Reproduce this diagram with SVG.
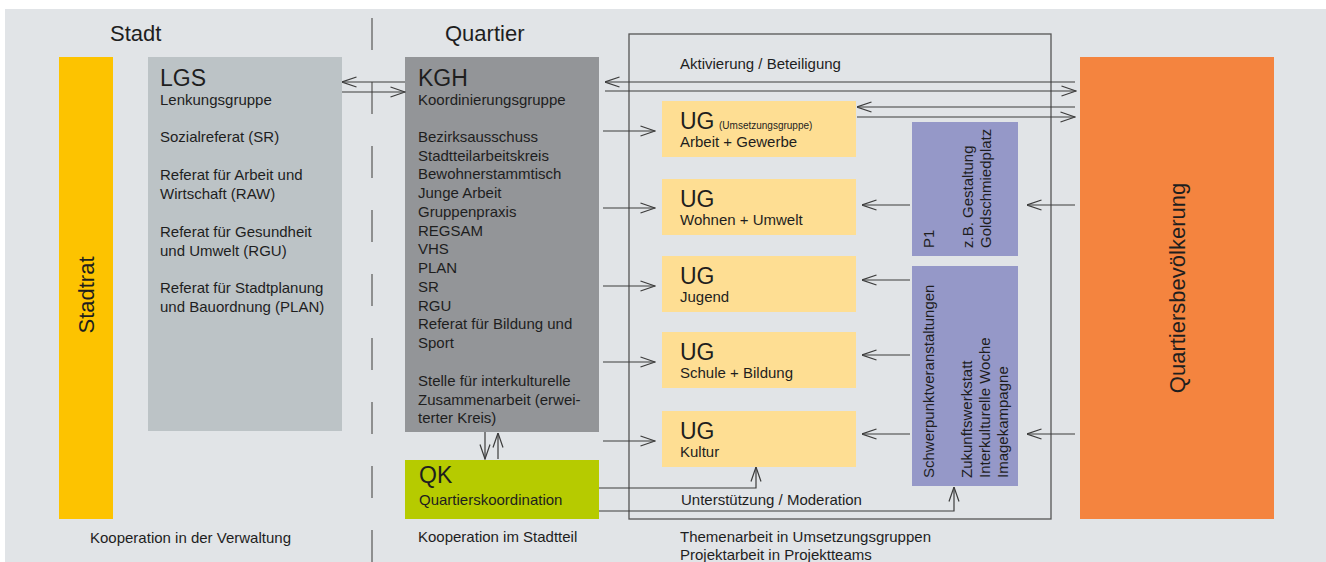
<svg xmlns="http://www.w3.org/2000/svg" width="1326" height="562" viewBox="0 0 1326 562">
<style>
text{font-family:"Liberation Sans",Arial,sans-serif;fill:#1e1e1e}
.t{font-size:15px}
.h{font-size:23px}
.big{font-size:22px}
.sm{font-size:10px}
.ln{fill:none;stroke:#3c3c3c;stroke-width:1.2}
.ar{fill:none;stroke:#3c3c3c;stroke-width:1.2;marker-end:url(#a)}
</style>
<defs>
<marker id="a" viewBox="0 0 16 12" refX="15.5" refY="6" markerWidth="16" markerHeight="12" markerUnits="userSpaceOnUse" orient="auto">
<path d="M1,1 L15.5,6 L1,11" fill="none" stroke="#3c3c3c" stroke-width="1.2"/>
</marker>
</defs>
<rect x="5" y="9" width="1321" height="553" fill="#e1e4e7"/>
<text class="big" x="110" y="41">Stadt</text>
<text class="big" x="445" y="41">Quartier</text>
<line x1="372" y1="18" x2="372" y2="562" stroke="#7a7a7a" stroke-width="1.6" stroke-dasharray="32 32"/>
<rect x="629" y="34" width="422" height="485" fill="none" stroke="#555" stroke-width="1.3"/>

<g id="stadtrat">
<rect x="59" y="57" width="54" height="462" fill="#fdc300"/>
<text class="big" text-anchor="middle" transform="translate(94,295) rotate(-90)">Stadtrat</text>
</g>
<g id="lgs">
<rect x="148" y="57" width="194" height="374" fill="#bcc3c6"/>
<text class="h" x="160" y="86">LGS</text>
<text class="t" x="160" y="105">Lenkungsgruppe</text>
<text class="t" x="160" y="142">Sozialreferat (SR)</text>
<text class="t" x="160" y="180">Referat für Arbeit und</text>
<text class="t" x="160" y="199">Wirtschaft (RAW)</text>
<text class="t" x="160" y="237">Referat für Gesundheit</text>
<text class="t" x="160" y="256">und Umwelt (RGU)</text>
<text class="t" x="160" y="293">Referat für Stadtplanung</text>
<text class="t" x="160" y="312">und Bauordnung (PLAN)</text>
</g>
<g id="kgh">
<rect x="405" y="57" width="194" height="375" fill="#939598"/>
<text class="h" x="418" y="86">KGH</text>
<text class="t" x="418" y="105">Koordinierungsgruppe</text>
<text class="t" x="418" y="142">Bezirksausschuss</text>
<text class="t" x="418" y="161">Stadtteilarbeitskreis</text>
<text class="t" x="418" y="179">Bewohnerstammtisch</text>
<text class="t" x="418" y="198">Junge Arbeit</text>
<text class="t" x="418" y="217">Gruppenpraxis</text>
<text class="t" x="418" y="236">REGSAM</text>
<text class="t" x="418" y="254">VHS</text>
<text class="t" x="418" y="273">PLAN</text>
<text class="t" x="418" y="292">SR</text>
<text class="t" x="418" y="311">RGU</text>
<text class="t" x="418" y="329">Referat für Bildung und</text>
<text class="t" x="418" y="348">Sport</text>
<text class="t" x="418" y="386">Stelle für interkulturelle</text>
<text class="t" x="418" y="405">Zusammenarbeit (erwei-</text>
<text class="t" x="418" y="423">terter Kreis)</text>
</g>
<g id="qk">
<rect x="405" y="460" width="194" height="59" fill="#b6cb00"/>
<text class="h" x="419" y="483">QK</text>
<text class="t" x="419" y="505">Quartierskoordination</text>
</g>
<g id="ug1">
<rect x="662" y="101" width="194" height="56" fill="#fede93"/>
<text class="h" x="680" y="129">UG</text>
<text class="sm" x="719" y="129">(Umsetzungsgruppe)</text>
<text class="t" x="680" y="147">Arbeit + Gewerbe</text>
</g>
<g id="ug2">
<rect x="662" y="179" width="194" height="56" fill="#fede93"/>
<text class="h" x="680" y="207">UG</text>
<text class="t" x="680" y="225">Wohnen + Umwelt</text>
</g>
<g id="ug3">
<rect x="662" y="256" width="194" height="56" fill="#fede93"/>
<text class="h" x="680" y="284">UG</text>
<text class="t" x="680" y="302">Jugend</text>
</g>
<g id="ug4">
<rect x="662" y="332" width="194" height="56" fill="#fede93"/>
<text class="h" x="680" y="360">UG</text>
<text class="t" x="680" y="378">Schule + Bildung</text>
</g>
<g id="ug5">
<rect x="662" y="411" width="194" height="56" fill="#fede93"/>
<text class="h" x="680" y="439">UG</text>
<text class="t" x="680" y="457">Kultur</text>
</g>
<g id="p1">
<rect x="912" y="122" width="106" height="134" fill="#9598c8"/>
<text class="t" transform="translate(934,248) rotate(-90)">P1</text>
<text class="t" transform="translate(973,248) rotate(-90)">z.B. Gestaltung</text>
<text class="t" transform="translate(991,248) rotate(-90)">Goldschmiedplatz</text>
</g>
<g id="schwerpunkt">
<rect x="912" y="266" width="106" height="220" fill="#9598c8"/>
<text class="t" transform="translate(934,478) rotate(-90)">Schwerpunktveranstaltungen</text>
<text class="t" transform="translate(972,478) rotate(-90)">Zukunftswerkstatt</text>
<text class="t" transform="translate(990,478) rotate(-90)">Interkulturelle Woche</text>
<text class="t" transform="translate(1008,478) rotate(-90)">Imagekampagne</text>
</g>
<g id="bevoelkerung">
<rect x="1080" y="57" width="194" height="462" fill="#f4843f"/>
<text class="big" text-anchor="middle" transform="translate(1185,288) rotate(-90)">Quartiersbevölkerung</text>
</g>

<g id="connectors">
<line class="ar" x1="405" y1="82" x2="342" y2="82"/>
<line class="ar" x1="342" y1="92" x2="405" y2="92"/>
<line class="ar" x1="1075" y1="82" x2="605" y2="82"/>
<line class="ar" x1="605" y1="91" x2="1076" y2="91"/>
<line class="ar" x1="1075" y1="107" x2="857" y2="107"/>
<line class="ar" x1="857" y1="117" x2="1075" y2="117"/>
<line class="ar" x1="603" y1="131" x2="655" y2="131"/>
<line class="ar" x1="603" y1="208" x2="655" y2="208"/>
<line class="ar" x1="603" y1="286" x2="655" y2="286"/>
<line class="ar" x1="603" y1="362" x2="655" y2="362"/>
<line class="ar" x1="603" y1="441" x2="655" y2="441"/>
<line class="ar" x1="910" y1="205" x2="862" y2="205"/>
<line class="ar" x1="910" y1="280" x2="862" y2="280"/>
<line class="ar" x1="910" y1="355" x2="862" y2="355"/>
<line class="ar" x1="910" y1="434" x2="862" y2="434"/>
<line class="ar" x1="1075" y1="205" x2="1027" y2="205"/>
<line class="ar" x1="1075" y1="434" x2="1027" y2="434"/>
<path class="ar" d="M599,488 H756 V467"/>
<path class="ar" d="M599,511 H954 V487"/>
<line class="ar" x1="485" y1="432" x2="485" y2="459"/>
<line class="ar" x1="498" y1="459" x2="498" y2="433"/>
</g>
<text class="t" x="680" y="69">Aktivierung / Beteiligung</text>
<text class="t" x="681" y="505">Unterstützung / Moderation</text>
<text class="t" x="90" y="543">Kooperation in der Verwaltung</text>
<text class="t" x="418" y="542">Kooperation im Stadtteil</text>
<text class="t" x="680" y="542">Themenarbeit in Umsetzungsgruppen</text>
<text class="t" x="680" y="560">Projektarbeit in Projektteams</text>
</svg>
